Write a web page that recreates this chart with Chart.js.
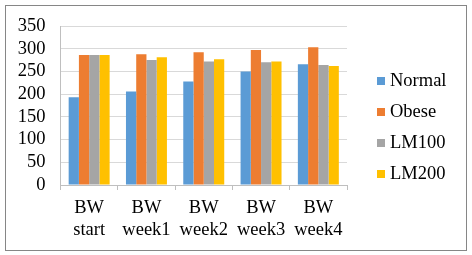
<!DOCTYPE html>
<html>
<head>
<meta charset="utf-8">
<script src="https://cdn.jsdelivr.net/npm/chart.js@4/dist/chart.umd.min.js"></script>
<style>
html, body { margin: 0; padding: 0; background: #fff; }
#box { position: absolute; left: 5px; top: 5px; width: 460px; height: 244px; border: 1px solid #868686; }
canvas { display: block; }
</style>
</head>
<body>
<div id="box"><canvas id="chart" width="460" height="244"></canvas></div>
<script>
// body weight per group
const categories = [['BW', 'start'], ['BW', 'week1'], ['BW', 'week2'], ['BW', 'week3'], ['BW', 'week4']];
const seriesNames = ['Normal', 'Obese', 'LM100', 'LM200'];
const normal = [193, 206, 228, 250, 266];
const obese = [286, 288, 292, 297, 303];
const lm100 = [286, 275, 272, 270, 264];
const lm200 = [286, 281, 277, 272, 262];
const yMax = 350;
const yStep = 50;

const colors = ['#5B9BD5', '#ED7D31', '#A5A5A5', '#FFC000'];
const font = { family: '"Liberation Serif", "Times New Roman", serif', size: 18.5 };

// legend drawn by hand so it sits where Excel put it
const sideLegend = {
    id: 'sideLegend',
    afterDraw(chart) {
        const ctx = chart.ctx;
        ctx.save();
        ctx.font = font.size + 'px ' + font.family;
        ctx.textBaseline = 'middle';
        ctx.textAlign = 'left';
        chart.data.datasets.forEach((ds, i) => {
            const y = 75 + i * 31;
            ctx.fillStyle = ds.backgroundColor;
            ctx.fillRect(371, y - 4, 8, 8);
            ctx.fillStyle = '#000';
            ctx.fillText(ds.label, 384, y);
        });
        ctx.restore();
    }
};

new Chart(document.getElementById('chart'), {
    type: 'bar',
    data: {
        labels: categories,
        datasets: [normal, obese, lm100, lm200].map((d, i) => ({
            label: seriesNames[i],
            data: d,
            backgroundColor: colors[i],
            categoryPercentage: 0.715,
            barPercentage: 1
        }))
    },
    options: {
        responsive: false,
        animation: false,
        layout: { padding: { left: 0, right: 119, top: 20, bottom: 0 } },
        plugins: { legend: { display: false }, tooltip: { enabled: false } },
        scales: {
            x: {
                afterFit(scale) { scale.height = 65; },
                grid: { offset: true, drawOnChartArea: false, tickLength: 5, color: '#BFBFBF' },
                border: { color: '#BFBFBF' },
                ticks: { color: '#000', font: { ...font, lineHeight: '22px' }, padding: 7, maxRotation: 0, autoSkip: false }
            },
            y: {
                afterFit(scale) {
                    scale.width = 54.5;
                    scale.paddingTop = 0;
                    scale.paddingBottom = 0;
                },
                min: 0,
                max: yMax,
                ticks: { stepSize: yStep, color: '#000', font: font, padding: 15, autoSkip: false },
                grid: { color: '#D9D9D9', drawTicks: false },
                border: { color: '#BFBFBF' }
            }
        }
    },
    plugins: [sideLegend]
});
</script>
</body>
</html>
